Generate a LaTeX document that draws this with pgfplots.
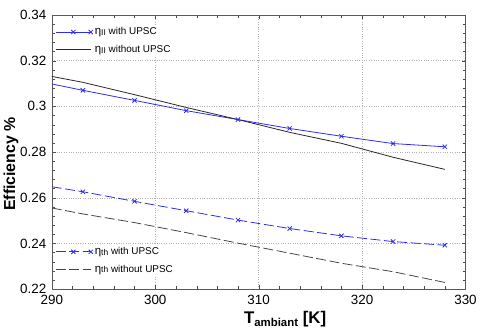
\documentclass[border=0pt]{standalone}
\usepackage{fontspec}
\setmainfont{Liberation Sans}
\usepackage{pgfplots}
\pgfplotsset{compat=1.18}

\definecolor{lineblue}{RGB}{45,45,240}
\definecolor{linegray}{RGB}{40,40,40}
\definecolor{dashgray}{RGB}{70,70,70}

\newcommand{\etasub}[1]{{\fontsize{11.5}{12}\selectfont η}\raisebox{-0.6bp}{\fontsize{8.5}{9}\selectfont #1}}

\pgfplotsset{
  base/.style={
    scale only axis,
    width=415bp, height=275bp,
    xmin=290, xmax=330, ymin=0.22, ymax=0.34,
    /pgf/number format/assume math mode=true,
    legend image code/.code={\draw[mark repeat=2,mark phase=2,##1] plot coordinates {(0bp,0bp) (17.5bp,0bp) (35bp,0bp)};},
    legend cell align=left,
    legend style={draw=none, fill=white, font=\fontsize{10}{12}\selectfont,
      row sep=5bp, inner xsep=1bp, inner ysep=1bp},
  },
}

\begin{document}
\begin{tikzpicture}
\begin{axis}[base, name=main,
  xtick={290,300,...,330},
  ytick={0.22,0.24,...,0.34},
  yticklabel style={/pgf/number format/fixed, /pgf/number format/precision=2},
  minor x tick num=4, minor y tick num=4,
  tick align=inside,
  axis line style={black!65},
  major tick length=4bp, minor tick length=3bp,
  tick style={black!70},
  grid=major,
  major grid style={dotted, black!30},
  ticklabel style={font=\fontsize{13.5}{16}\selectfont},
  xticklabel style={yshift=-3bp},
  yticklabel style={xshift=-2bp},
  xlabel={\bfseries\fontsize{17}{19}\selectfont T\raisebox{-3bp}{\fontsize{11.5}{12}\selectfont ambiant} [K]},
  ylabel={\bfseries Efficiency \%},
  xlabel style={at={(axis description cs:0.564,-0.108)}, anchor=center},
  ylabel style={font=\fontsize{16}{18}\selectfont, at={(axis description cs:-0.0988,0.456)}, anchor=center},
  legend style={at={(axis description cs:0.006,0.965)}, anchor=north west},
]
\addplot[lineblue, line width=0.8bp, mark=x, mark size=3bp, mark indices={2,3,4,5,6,7,8,9}] coordinates {
(290,0.3098) (293,0.3070) (298,0.3026) (303,0.2981) (308,0.2942)
(313,0.2903) (318,0.2869) (323,0.2837) (328,0.2823)};
\addlegendentry{\etasub{II} with UPSC}
\addplot[linegray, line width=0.8bp] coordinates {
(290,0.3131) (293,0.3105) (298,0.3051) (303,0.2995) (308,0.2942)
(313,0.2886) (318,0.2838) (323,0.2777) (328,0.2724)};
\addlegendentry{\etasub{II} without UPSC}
\end{axis}
\begin{axis}[base, hide axis,
  legend style={at={(axis description cs:0.006,0.044)}, anchor=south west},
]
\addplot[lineblue, line width=0.8bp, dash pattern=on 10bp off 3.5bp, mark=x, mark size=3bp, mark options={solid}, mark indices={2,3,4,5,6,7,8,9}] coordinates {
(290,0.2648) (293,0.2626) (298,0.2584) (303,0.2543) (308,0.2502)
(313,0.2465) (318,0.2433) (323,0.2408) (328,0.2392)};
\addlegendentry{\etasub{th} with UPSC}
\addplot[dashgray, line width=0.8bp, dash pattern=on 10bp off 3.5bp] coordinates {
(290,0.2555) (293,0.2529) (298,0.2491) (303,0.2447) (308,0.2401)
(313,0.2357) (318,0.2313) (323,0.2276) (328,0.2229)};
\addlegendentry{\etasub{th} without UPSC}
\end{axis}
\path ([shift={(-52bp,-47bp)}]main.south west) rectangle ([shift={(13bp,15bp)}]main.north east);
\end{tikzpicture}
\end{document}
